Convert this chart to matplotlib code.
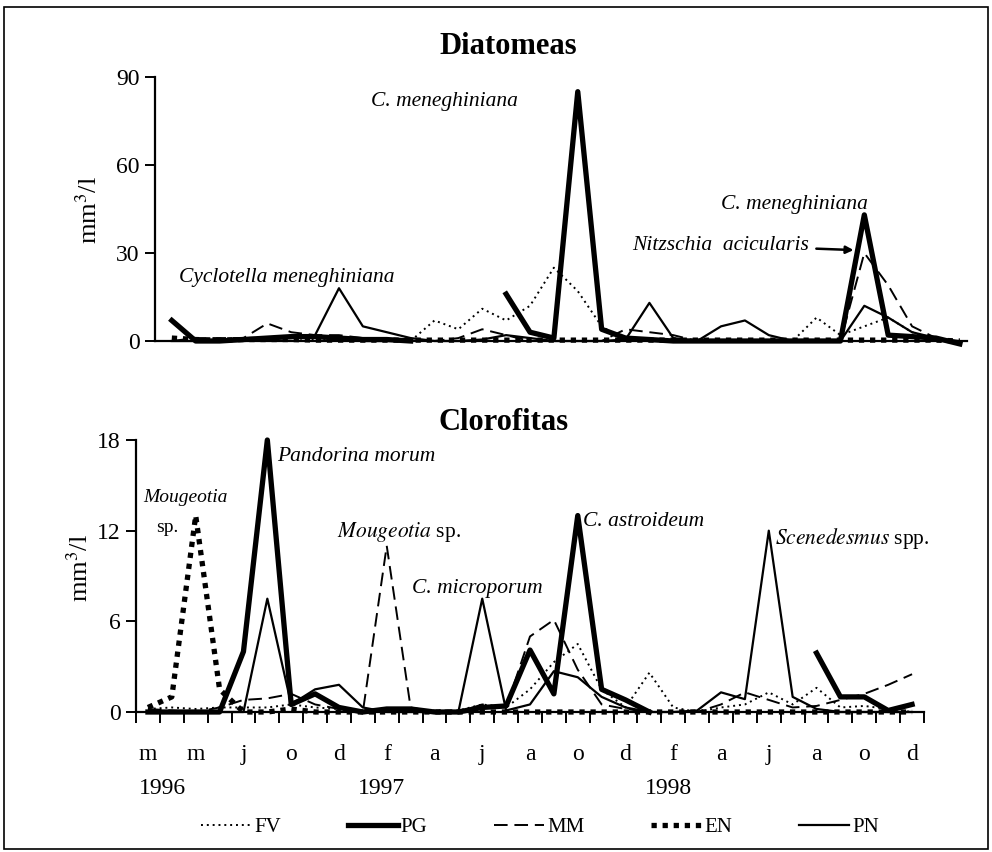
import numpy as np
import matplotlib
matplotlib.use("Agg")
import matplotlib.pyplot as plt
from matplotlib.patches import Rectangle

plt.rcParams['font.family'] = ['Liberation Serif', 'DejaVu Serif']
plt.rcParams['mathtext.fontset'] = 'stix'

nan = np.nan

# Diatomeas (mm3/l), muestreos 1..34
pos_top = np.arange(1, 35)
#          1    2    3    4    5    6    7    8    9   10   11   12   13   14   15   16   17   18   19   20
diat_fv = [0,   0,   0,   0.5, 1,   1,   0.5, 0.5, 0.5, 0,   0,   7,   4,   11,  7,   12,  25,  17,  5,   0,
           0,   0,   0,   0,   0,   0,   0,   8,   2,   5,   8,   3,   0,   0]
diat_pg = [7,   0,   0,   0.5, 1,   1.5, 1.5, 1,   0.5, 0.5, 0,   nan, nan, nan, 16,  3,   1,   85,  4,   1,
           0.5, 0,   0,   0,   0,   0,   0,   0,   0,   43,  2,   1.5, 1,   -1]
diat_mm = [0,   1,   1,   1,   6,   3,   2,   2,   1,   0.5, 0,   0,   1,   4,   2,   0,   0,   0,   0,   4,
           3,   2,   0,   0,   0,   0,   0,   0,   0,   30,  19,  5,   1,   0]
diat_en = [1,   0.5, 0.3, 0.5, 0.5, 0.5, 0.3, 0.3, 0.3, 0.3, 0.3, 0.3, 0.3, 0.3, 0.3, 0.3, 0.3, 0.3, 0.3, 0.3,
           0.3, 0.3, 0.3, 0.3, 0.3, 0.3, 0.3, 0.3, 0.3, 0.3, 0.3, 0.3, 0.3, 0]
diat_pn = [0,   0,   0.5, 1,   1,   1,   2,   18,  5,   3,   1,   0,   0,   0.5, 2,   1,   0,   0,   0,   0.5,
           13,  1,   0,   5,   7,   2,   0,   0,   0,   12,  8,   3,   1,   -1]

# Clorofitas (mm3/l), muestreos 0..32
pos_bot = np.arange(33)
clor_fv = [0.2, 0.3, 0.2, 0.3, 0.3, 0.3, 0.5, 0.3, 0.2, 0, 0, 0, 0.1, 0.1, 0.5, 0.3, 1.5,
           3.3, 4.5, 1.5, 0.3, 2.6, 0.3, 0, 0.3, 0.5, 1.3, 0.5, 1.6, 0.3, 0.4, 0.2, 0]
clor_pg = [0, 0, 0, 0, 4, 18, 0.5, 1.2, 0.3, 0, 0.2, 0.2, 0, 0, 0.3, 0.4, 4.1,
           1.2, 13, 1.5, 0.8, 0, nan, nan, nan, nan, nan, nan, 3.9, 1.0, 1.0, 0.1, 0.5]
clor_mm = [0.2, 0.1, 0, 0.3, 0.8, 0.9, 1.2, 0.5, 0.2, 0, 11, 0.3, 0, 0, 0.5, 0.3, 5,
           6.1, 2.8, 0.5, 0.2, 0, 0, 0, 0.5, 1.3, 0.8, 0.3, 0.4, 0.8, 1.2, 1.8, 2.5]
clor_en = [0.3, 1, 13, 1.5, 0, 0, 0.2, 0, 0, 0, 0, 0, 0, 0, 0, 0, 0,
           0, 0, 0, 0, 0, 0, 0, 0, 0, 0, 0, 0, 0, 0, 0, 0]
clor_pn = [0, 0, 0, 0, 0, 7.5, 0.5, 1.5, 1.8, 0.3, 0, 0, 0, 0, 7.5, 0.1, 0.5,
           2.7, 2.3, 1.0, 0.3, 0, 0, 0.1, 1.3, 0.85, 12, 1.0, 0.2, 0, 0, 0, 0]

month_labels = ['m', 'm', 'j', 'o', 'd', 'f', 'a', 'j', 'a', 'o', 'd', 'f', 'a', 'j', 'a', 'o', 'd']
years = ['1996', '1997', '1998']
year_pos = [0.6, 9.8, 21.8]

# estilos de linea
styles = {
    'FV': dict(color='black', lw=1.4, ls=(0, (1, 2))),
    'PG': dict(color='black', lw=3.8, ls='-'),
    'MM': dict(color='black', lw=1.4, ls=(0, (7, 3.5))),
    'EN': dict(color='black', lw=3.8, ls=(0, (1, 1.1))),
    'PN': dict(color='black', lw=1.6, ls='-'),
}
legend_order = ['FV', 'PG', 'MM', 'EN', 'PN']

W, H = 992, 852
fig = plt.figure(figsize=(W / 100, H / 100), dpi=100)

def px_axes(l, r, t, b):
    return fig.add_axes([l / W, 1 - b / H, (r - l) / W, (b - t) / H])

ax1 = px_axes(155, 967, 77, 341)
ax2 = px_axes(136, 924, 440, 712)

for name, vals in [('FV', diat_fv), ('MM', diat_mm), ('EN', diat_en), ('PN', diat_pn), ('PG', diat_pg)]:
    ax1.plot(pos_top, vals, clip_on=False, **styles[name])
handles = {}
for name, vals in [('FV', clor_fv), ('MM', clor_mm), ('EN', clor_en), ('PN', clor_pn), ('PG', clor_pg)]:
    handles[name], = ax2.plot(pos_bot, vals, clip_on=False, label=name, **styles[name])

for ax in (ax1, ax2):
    for s in ('top', 'right'):
        ax.spines[s].set_visible(False)
    ax.spines['left'].set_linewidth(1.6)
    ax.spines['bottom'].set_linewidth(1.6)
    ax.tick_params(axis='y', direction='out', length=7, width=1.4, labelsize=17, pad=4)

ax1.set_xlim(0.296, 34.3)
ax1.set_ylim(0, 90)
ax1.set_yticks([0, 30, 60, 90])
ax1.set_xticks([])

ax2.set_xlim(-0.5, 32.5)
ax2.set_ylim(0, 18)
ax2.set_yticks([0, 6, 12, 18])
ax2.set_xticks(np.arange(0, 33, 2))
ax2.set_xticklabels(month_labels, fontsize=17)
ax2.set_xticks(np.arange(-0.5, 33, 1), minor=True)
ax2.tick_params(axis='x', which='major', length=0, pad=23)
ax2.tick_params(axis='x', which='minor', direction='out', length=8, width=1.4)

for yr, xp in zip(years, year_pos):
    ax2.text(xp, -(788 - 712) / 272, yr, transform=ax2.get_xaxis_transform(),
             ha='center', va='center', fontsize=17)

fig.text(89 / W, 1 - 210 / H, 'mm$^3$/l', rotation=90, ha='center', va='center', fontsize=19)
fig.text(80 / W, 1 - 568 / H, 'mm$^3$/l', rotation=90, ha='center', va='center', fontsize=19)

fig.text(508 / W, 1 - 47 / H, 'Diatomeas', ha='center', va='center', fontsize=22, fontweight='bold')
fig.text(504 / W, 1 - 423 / H, 'Clorofitas', ha='center', va='center', fontsize=22, fontweight='bold')

it = dict(fontsize=15.5, style='italic')
# anotaciones diatomeas
ax1.text(15.5, 81.5, 'C. meneghiniana', ha='right', va='center', **it)
ax1.text(30.15, 46.4, 'C. meneghiniana', ha='right', va='center', **it)
ax1.annotate('Nitzschia  acicularis', xy=(29.55, 31), xytext=(27.7, 32.7), ha='right', va='center',
             arrowprops=dict(arrowstyle='-|>', color='black', lw=1.8, mutation_scale=11,
                             shrinkA=3, shrinkB=0), **it)
ax1.text(5.8, 21.5, 'Cyclotella meneghiniana', ha='center', va='center', **it)

# anotaciones clorofitas
ax2.text(1.56, 14.2, 'Mougeotia', ha='center', va='center', fontsize=14, style='italic')
ax2.text(0.8, 12.2, 'sp.', ha='center', va='center', fontsize=14)
ax2.text(5.42, 16.9, 'Pandorina morum', ha='left', va='center', **it)
ax2.text(7.92, 11.9, r'$\mathit{Mougeotia}$ sp.', ha='left', va='center', fontsize=15.5)
ax2.text(11.04, 8.2, 'C. microporum', ha='left', va='center', **it)
ax2.text(18.2, 12.6, 'C. astroideum', ha='left', va='center', **it)
ax2.text(26.25, 11.5, r'$\mathit{Scenedesmus}$ spp.', ha='left', va='center', fontsize=15.5)

fig.legend([handles[n] for n in legend_order], legend_order, loc='center',
           bbox_to_anchor=(540 / W, 1 - 827 / H), ncol=5, frameon=False,
           fontsize=15, handlelength=2.4, handletextpad=0.15, columnspacing=3.2)

fig.patches.append(Rectangle((4 / W, 3 / H), 984 / W, 842 / H, transform=fig.transFigure,
                             fill=False, lw=1.2, edgecolor='black'))

fig.savefig('out.png', dpi=100)
